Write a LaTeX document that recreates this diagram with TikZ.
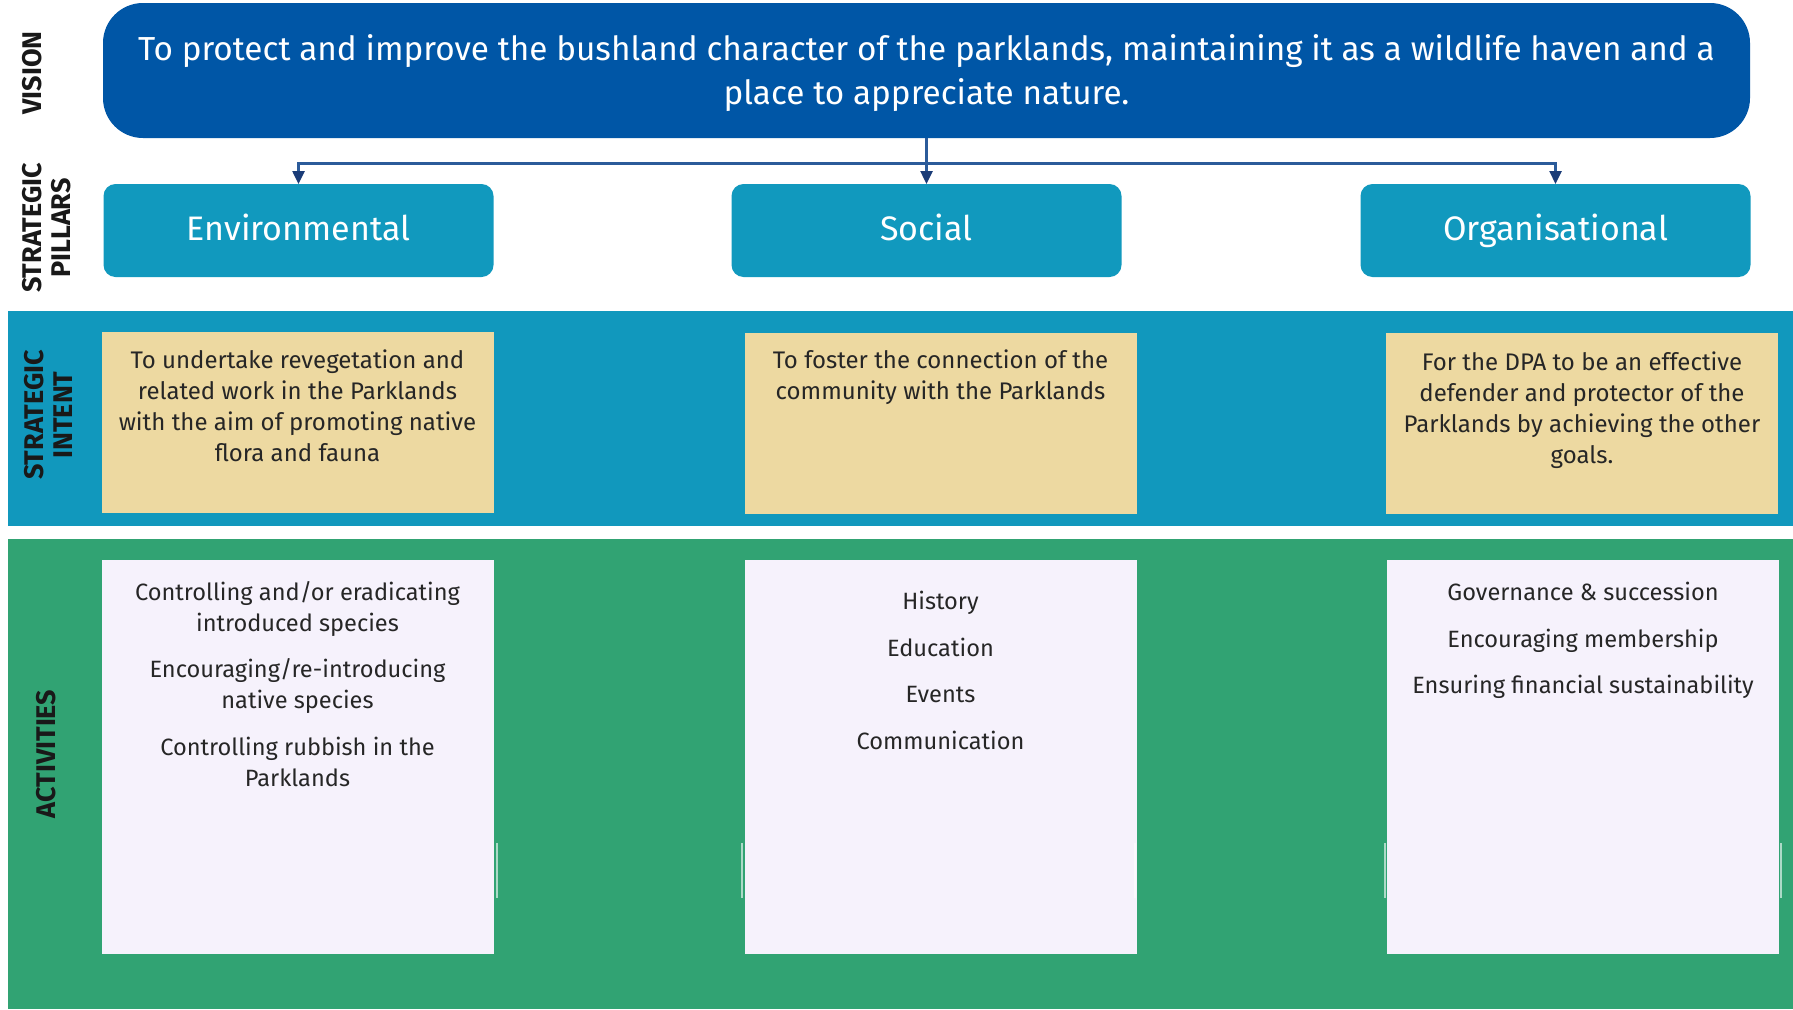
\documentclass[tikz,border=0pt]{standalone}
\usepackage{fontspec}
\setmainfont{Fira Sans}
\usetikzlibrary{arrows.meta}
\definecolor{visionblue}{HTML}{0056A6}
\definecolor{pillarteal}{HTML}{1199BE}
\definecolor{bandteal}{HTML}{1198BD}
\definecolor{intenttan}{HTML}{EDD9A1}
\definecolor{actgreen}{HTML}{31A373}
\definecolor{actlav}{HTML}{F6F2FC}
\definecolor{connblue}{HTML}{2B5B9A}
\definecolor{tipnavy}{HTML}{1A3C78}
\tikzset{
  box/.style={inner sep=0pt, outer sep=0pt},
  pillarbox/.style={box, fill=pillarteal, rounded corners=12pt, minimum width=390pt, minimum height=93pt,
     text=white, font=\fontsize{34}{40}\selectfont, text height=25pt, text depth=5pt},
  intentbox/.style={box, fill=intenttan, minimum width=392pt, minimum height=181pt},
  actbox/.style={box, fill=actlav, minimum width=392pt, minimum height=394pt},
  bodytext/.style={inner sep=0pt, align=center, anchor=north, text=black!85},
  intenttext/.style={bodytext, font=\fontsize{24}{31}\selectfont},
  acttext/.style={bodytext, font=\fontsize{23.6}{31}\selectfont},
  sidelabel/.style={inner sep=0pt, rotate=90, align=center, font=\bfseries\fontsize{27}{29}\selectfont, text=black!90},
  conn/.style={draw=connblue, line width=2.5pt},
  connarrow/.style={conn, -{Triangle[length=13pt,width=12pt,color=tipnavy]}},
  artline/.style={draw=white, opacity=0.6, line width=1.5pt}
}
\begin{document}
\begin{tikzpicture}[x=1pt,y=-1pt]
\useasboundingbox (0,0) rectangle (1793,1009);
\fill[white] (0,0) rectangle (1793,1009);

% bands
\node[box, fill=bandteal, minimum width=1785pt, minimum height=215pt] (intentband) at (900.5,418.5) {};
\node[box, fill=actgreen, minimum width=1785pt, minimum height=470pt] (actband) at (900.5,774) {};

% vision
\node[box, fill=visionblue, rounded corners=40pt, minimum width=1647pt, minimum height=135pt] (vision) at (926.5,70.5) {};
\node[inner sep=0pt, align=center, text=white, font=\fontsize{33.3}{44.6}\selectfont] (visiontext) at (926.5,73)
  {To protect and improve the bushland character of the parklands, maintaining it as a wildlife haven and a\\
   place to appreciate nature.};

% pillars
\node[pillarbox] (env) at (298.5,230.5) {Environmental};
\node[pillarbox] (social) at (926.5,230.5) {Social};
\node[pillarbox] (org) at (1555.5,230.5) {Organisational};

% connectors
\coordinate (bus) at (926.5,163.5);
\draw[connarrow] (vision.south) -- (social.north);
\draw[connarrow] (bus) -| (env.north);
\draw[connarrow] (bus) -| (org.north);

% intent boxes
\node[intentbox] (ienv) at (297.5,422) {};
\node[intentbox] (isoc) at (940.5,423) {};
\node[intentbox] (iorg) at (1582,423) {};
\node[intenttext] (ienvt) at (297.5,350)
  {To undertake revegetation and\\related work in the Parklands\\with the aim of promoting native\\flora and fauna};
\node[intenttext] (isoct) at (940.5,350)
  {To foster the connection of the\\community with the Parklands};
\node[intenttext] (iorgt) at (1582,352)
  {For the DPA to be an effective\\defender and protector of the\\Parklands by achieving the other\\goals.};

% activity boxes
\node[actbox] (aenv) at (297.5,757) {};
\node[actbox] (asoc) at (940.5,757) {};
\node[actbox] (aorg) at (1583,757) {};
\node[acttext] (aenvt) at (297.5,581)
  {Controlling and/or eradicating\\introduced species\\[15.5pt]
   Encouraging/re-introducing\\native species\\[15.5pt]
   Controlling rubbish in the\\Parklands};
\node[acttext] (asoct) at (940.5,591)
  {History\\[15.5pt]Education\\[15.5pt]Events\\[15.5pt]Communication};
\node[acttext] (aorgt) at (1583,582)
  {Governance \& succession\\[15.5pt]Encouraging membership\\[15.5pt]Ensuring financial sustainability};

% faint edge marks
\draw[artline] (497,843) -- (497,898);
\draw[artline] (742,843) -- (742,898);
\draw[artline] (1135,843) -- (1135,898);
\draw[artline] (1385,843) -- (1385,898);
\draw[artline] (1781,843) -- (1781,898);

% side labels
\node[sidelabel] (lvision) at (32,73) {VISION};
\node[sidelabel] (lpillars) at (46.5,228) {STRATEGIC\\PILLARS};
\node[sidelabel] (lintent) at (48.5,415) {STRATEGIC\\INTENT};
\node[sidelabel] (lact) at (46,754) {ACTIVITIES};
\end{tikzpicture}
\end{document}
